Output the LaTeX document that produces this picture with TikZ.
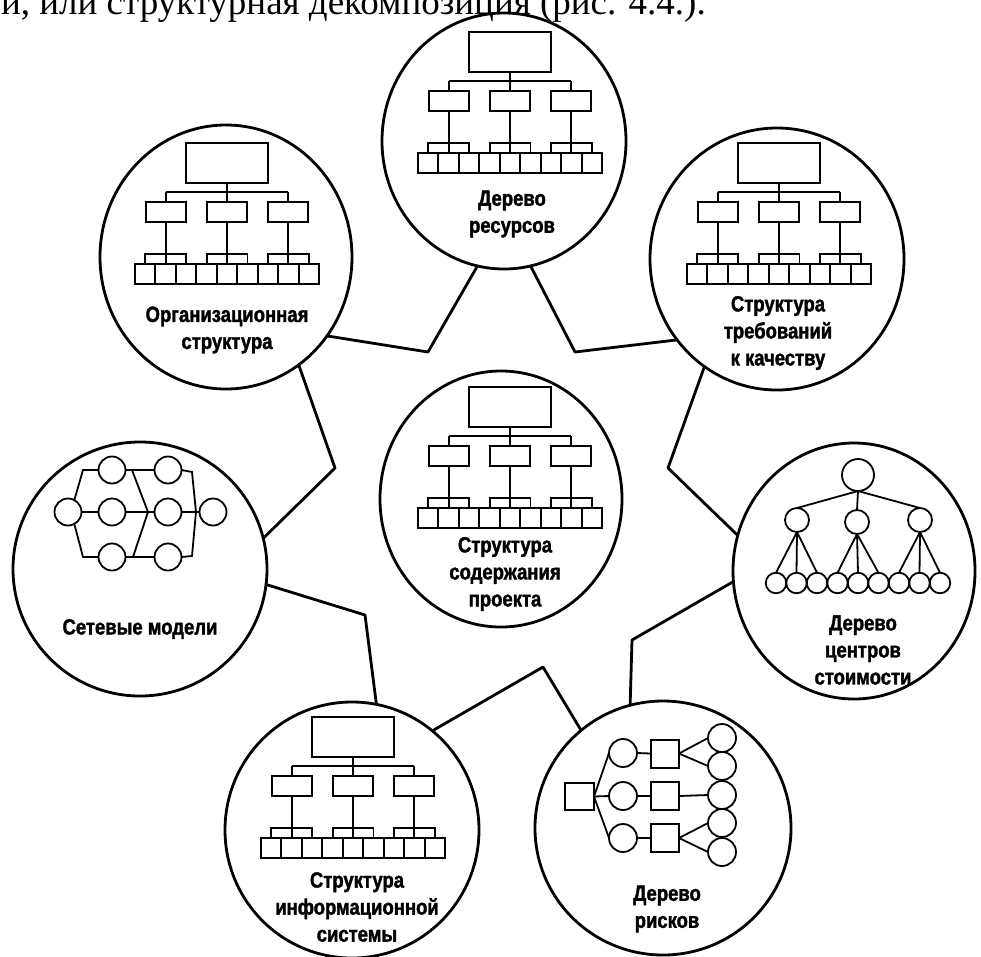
\documentclass[tikz,border=0pt]{standalone}
\usepackage{fontspec}
\setmainfont{Liberation Serif}
\newfontfamily\lblfont{Liberation Sans}[FakeStretch=0.84, BoldFeatures={FakeBold=1.6}]
\usetikzlibrary{shapes.geometric}

\begin{document}
\begin{tikzpicture}[x=1pt,y=-1pt,
  ring/.style={draw, ellipse, line width=2.8pt, inner sep=0pt, outer sep=0pt},
  link/.style={line width=2.8pt, line join=round, line cap=round},
  fine/.style={line width=1.8pt},
  lbl/.style={font=\lblfont\bfseries\fontsize{22}{27}\selectfont, align=center, inner sep=0pt},
  dot/.style={draw, circle, line width=1.8pt, inner sep=0pt, outer sep=0pt, minimum size=#1},
  sq/.style={draw, rectangle, line width=2pt, inner sep=0pt, outer sep=0pt},
  hier/.pic={
    \draw[line width=2.2pt] (-41,0) rectangle (41,40);
    \draw[fine] (0,40) -- (0,49);
    \draw[fine] (-61.3,49) -- (61.3,49);
    \foreach \m in {-61.3,0,61.3} {
      \draw[fine] (\m,49) -- (\m,59);
      \draw[line width=2pt] (\m-20,59) rectangle (\m+20,79);
      \draw[fine] (\m,79) -- (\m,121);
      \draw[fine] (\m-20.4,121) -- (\m-20.4,111) -- (\m+20.4,111) -- (\m+20.4,121);
    }
    \foreach \i in {0,...,8}
      \draw[line width=2pt] (-92+\i*20.44,121) rectangle ++(20.44,20);
  }
]
\useasboundingbox (0,0) rectangle (981,956);
\clip (0,0) rectangle (981,956);

% line of body text above the figure, its upper part trimmed by the page edge
\node[anchor=base east, inner sep=0pt, font=\fontsize{37}{40}\selectfont] (caption) at (706,14)
  {и, или структурная декомпозиция (рис. 4.4.).};

% the eight rings
\node[ring, minimum width=244pt, minimum height=256pt] (top)  at (504,141) {};
\node[ring, minimum width=252pt, minimum height=264pt] (org)  at (226,257) {};
\node[ring, minimum width=254pt, minimum height=262pt] (qual) at (777,259) {};
\node[ring, minimum width=242pt, minimum height=256pt] (core) at (501,499) {};
\node[ring, minimum width=254pt, minimum height=254pt] (net)  at (140,569) {};
\node[ring, minimum width=242pt, minimum height=256pt] (cost) at (854,571) {};
\node[ring, minimum width=254pt, minimum height=256pt] (info) at (352,830) {};
\node[ring, minimum width=256pt, minimum height=254pt] (risk) at (663,828) {};

% bends of the zigzag ring of connectors
\coordinate (b1) at (428,352);
\coordinate (b2) at (575,352);
\coordinate (b3) at (668,468);
\coordinate (b4) at (632,640);
\coordinate (b5) at (543,667);
\coordinate (b6) at (365,615);
\coordinate (b7) at (335,468);

\draw[link] (org.-38.4)  -- (b1) -- (top.-102);
\draw[link] (top.-78.4)  -- (b2) -- (qual.-141.7);
\draw[link] (qual.-124.7) -- (b3) -- (cost.163.2);
\draw[link] (cost.185.8) -- (b4) -- (risk.105.9);
\draw[link] (risk.130.8) -- (b5) -- (info.51.9);
\draw[link] (info.79.7)  -- (b6) -- (net.-7.1);
\draw[link] (net.14.4)   -- (b7) -- (org.-56.3);

% hierarchy pictograms
\pic at (510,32)  {hier};
\pic at (227,143) {hier};
\pic at (779,143) {hier};
\pic at (510,387) {hier};
\pic at (353,717) {hier};

% network model
\begin{scope}[every node/.style={dot=27pt}]
  \node (nA) at (68,512) {};
  \node (nB) at (112,470) {};
  \node (nC) at (112,512) {};
  \node (nD) at (112,557) {};
  \node (nE) at (168,470) {};
  \node (nF) at (168,512) {};
  \node (nG) at (168,557) {};
  \node (nH) at (213,512) {};
\end{scope}
\draw[fine] (nA.62) -- (83,470) -- (nB.west);
\draw[fine] (nA.-62) -- (83,557) -- (nD.west);
\draw[fine] (nA.east) -- (nC.west);
\draw[fine] (nB.east) -- (nE.west);
\draw[fine] (nC.east) -- (nF.west);
\draw[fine] (nD.east) -- (nG.west);
\draw[fine] (132,470) -- (148,512) -- (133,557);
\draw[fine] (nE.east) -- (192,472) -- (196,512) -- (192,556) -- (nG.east);
\draw[fine] (nF.east) -- (nH.west);

% tree of cost centres
\node[dot=32pt] (cT) at (858,475) {};
\node[dot=24pt] (cM1) at (797,520) {};
\node[dot=24pt] (cM2) at (857,522) {};
\node[dot=24pt] (cM3) at (920,520) {};
\foreach \i in {1,...,9}
  \node[dot=20.5pt] (cL\i) at ({858+(\i-5)*20.5},583) {};
\foreach \m in {1,2,3} \draw[fine] (cT.south) -- (cM\m.north);
\foreach \m/\a/\b/\c in {1/1/2/3, 2/4/5/6, 3/7/8/9} {
  \draw[fine] (cM\m.south) -- (cL\a.north);
  \draw[fine] (cM\m.south) -- (cL\b.north);
  \draw[fine] (cM\m.south) -- (cL\c.north);
}

% risk tree
\node[sq, minimum width=29pt, minimum height=27pt] (rR) at (579.5,796.5) {};
\node[dot=28pt] (rP1) at (623,753) {};
\node[dot=28pt] (rP2) at (623,796) {};
\node[dot=28pt] (rP3) at (623,838) {};
\foreach \k/\y in {1/753.5,2/796,3/838}
  \node[sq, minimum width=28pt, minimum height=28pt] (rQ\k) at (665,\y) {};
\foreach \k/\y in {1/738,2/766,3/795,4/823,5/852}
  \node[dot=28pt] (rL\k) at (722,\y) {};
\foreach \k in {1,2,3} {
  \draw[fine] (rR.east) -- (rP\k.west);
  \draw[fine] (rP\k.east) -- (rQ\k.west);
}
\draw[fine] (rQ1.east) -- (rL1.west);
\draw[fine] (rQ1.east) -- (rL2.west);
\draw[fine] (rQ2.east) -- (rL3.west);
\draw[fine] (rQ3.east) -- (rL4.west);
\draw[fine] (rQ3.east) -- (rL5.west);

% labels
\node[lbl] (ltop)  at (512,214) {Дерево\\ресурсов};
\node[lbl] (lorg)  at (227,330) {Организационная\\структура};
\node[lbl] (lqual) at (778,333) {Структура\\требований\\к качеству};
\node[lbl] (lcore) at (505,574) {Структура\\содержания\\проекта};
\node[lbl] (lnet)  at (140,629) {Сетевые модели};
\node[lbl] (lcost) at (863,650) {Дерево\\центров\\стоимости};
\node[lbl] (linfo) at (357,907) {Структура\\информационной\\системы};
\node[lbl] (lrisk) at (667,909) {Дерево\\рисков};
\end{tikzpicture}
\end{document}
